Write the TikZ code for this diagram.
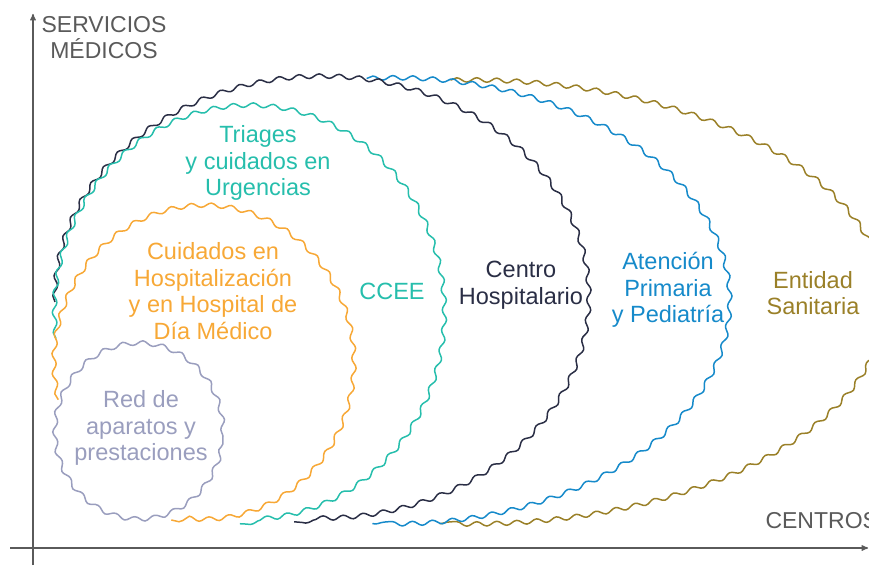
\documentclass[tikz,border=0pt]{standalone}
\usepackage{fontspec}
\setmainfont{Liberation Sans}
\usetikzlibrary{arrows,decorations.pathmorphing}

\definecolor{redcol}{RGB}{154,158,190}
\definecolor{hospcol}{RGB}{247,168,54}
\definecolor{urgcol}{RGB}{38,190,172}
\definecolor{centcol}{RGB}{42,46,69}
\definecolor{primcol}{RGB}{22,138,202}
\definecolor{entcol}{RGB}{154,128,40}
\definecolor{axiscol}{RGB}{90,90,90}

\begin{document}
\begin{tikzpicture}[x=1pt,y=1pt,>=stealth',
  wave/.style={decorate,decoration={snake,segment length=20pt,amplitude=2.2pt},line width=1.5pt},
  area label/.style={align=center,font=\fontsize{23.5}{26.5}\selectfont},
  axis label/.style={align=center,text=axiscol,font=\fontsize{23}{26}\selectfont}]

  \useasboundingbox (0,0) rectangle (869,567);

  % axes
  \coordinate (ybot) at (33,2);
  \coordinate (ytop) at (33,553);
  \coordinate (xleft) at (10,19);
  \coordinate (xright) at (868,19);
  \draw[->,axiscol,line width=1.3pt] (ybot) -- (ytop);
  \draw[->,axiscol,line width=1.3pt] (xleft) -- (xright);
  \node[axis label] (servicios) at (104,529) {SERVICIOS\\MÉDICOS};
  \node[axis label,anchor=west] (centros) at (762,46) {CENTROS};

  % nested areas
  \draw[wave,entcol] (465,265) ++(92:415 and 222) arc[start angle=92,end angle=-93.5,x radius=415,y radius=222];
  \draw[wave,primcol] (390,266) ++(94:335 and 223) arc[start angle=94,end angle=-93,x radius=335,y radius=223];
  \draw[wave,centcol] (322,265) ++(180:267 and 221) arc[start angle=180,end angle=-96,x radius=267,y radius=221];
  \draw[wave,urgcol] (250,250) ++(186:195 and 207) arc[start angle=186,end angle=-93,x radius=195,y radius=207];
  \draw[wave,hospcol] (205,200) ++(192:150 and 157) arc[start angle=192,end angle=-103,x radius=150,y radius=157];
  \draw[wave,redcol] (139,131) ellipse[x radius=84,y radius=88];

  % labels
  \node[area label,text=urgcol] (triages) at (258,404) {Triages\\y cuidados en\\Urgencias};
  \node[area label,text=hospcol] (cuidados) at (213,276) {Cuidados en\\Hospitalización\\y en Hospital de\\Día Médico};
  \node[area label,text=urgcol] (ccee) at (392,276) {CCEE};
  \node[area label,text=redcol] (red) at (141,139) {Red de\\aparatos y\\prestaciones};
  \node[area label,text=centcol] (centro) at (521,282) {Centro\\Hospitalario};
  \node[area label,text=primcol] (atencion) at (668,277) {Atención\\Primaria\\y Pediatría};
  \node[area label,text=entcol] (entidad) at (813,274) {Entidad\\Sanitaria};

\end{tikzpicture}
\end{document}
